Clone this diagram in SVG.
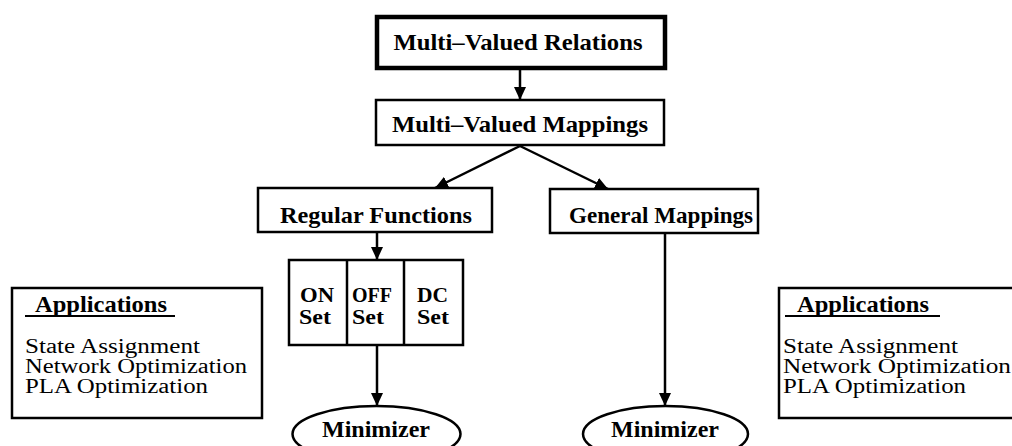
<svg xmlns="http://www.w3.org/2000/svg" width="1012" height="446" viewBox="0 0 1012 446">
<style>
.box{fill:#fff;stroke:#000;stroke-width:2.5}
.thick{fill:#fff;stroke:#000;stroke-width:4.5}
.b{font-family:"Liberation Serif","Times New Roman",serif;font-weight:bold;font-size:24px;fill:#000}
.s{font-family:"Liberation Serif","Times New Roman",serif;font-weight:bold;font-size:20px;fill:#000}
.r{font-family:"Liberation Serif","Times New Roman",serif;font-size:20px;fill:#000}
.c{stroke:#000;stroke-width:2.5;fill:none}
</style>
<defs>
<marker id="ah" markerUnits="userSpaceOnUse" markerWidth="14" markerHeight="12" refX="13" refY="6" orient="auto">
<path d="M0,0 L13,6 L0,12 z" fill="#000"/>
</marker>
</defs>
<g id="connectors">
<line class="c" x1="520" y1="70" x2="520" y2="100" marker-end="url(#ah)"/>
<line class="c" x1="520" y1="146" x2="435" y2="188" marker-end="url(#ah)"/>
<line class="c" x1="520" y1="146" x2="608" y2="189" marker-end="url(#ah)"/>
<line class="c" x1="377" y1="232" x2="377" y2="260" marker-end="url(#ah)"/>
<line class="c" x1="377" y1="345" x2="377" y2="406" marker-end="url(#ah)"/>
<line class="c" x1="665" y1="233" x2="665" y2="406" marker-end="url(#ah)"/>
</g>
<g id="mvrelations">
<rect class="thick" x="377" y="17" width="288" height="51"/>
<text class="b" x="518" y="50" text-anchor="middle" textLength="249" lengthAdjust="spacingAndGlyphs">Multi–Valued Relations</text>
</g>
<g id="mvmappings">
<rect class="box" x="376" y="100" width="288" height="45"/>
<text class="b" x="520" y="132" text-anchor="middle" textLength="256" lengthAdjust="spacingAndGlyphs">Multi–Valued Mappings</text>
</g>
<g id="regular">
<rect class="box" x="258" y="188" width="234" height="44"/>
<text class="b" x="376" y="223" text-anchor="middle" textLength="192" lengthAdjust="spacingAndGlyphs">Regular Functions</text>
</g>
<g id="general">
<rect class="box" x="550" y="189" width="208" height="44"/>
<text class="b" x="569" y="223" textLength="184" lengthAdjust="spacingAndGlyphs">General Mappings</text>
</g>
<g id="sets">
<rect class="box" x="289" y="260" width="174" height="85"/>
<line class="c" x1="347" y1="260" x2="347" y2="345"/>
<line class="c" x1="404" y1="260" x2="404" y2="345"/>
<text class="s" x="300" y="302" textLength="34" lengthAdjust="spacingAndGlyphs">ON</text>
<text class="s" x="299" y="324" textLength="32" lengthAdjust="spacingAndGlyphs">Set</text>
<text class="s" x="352" y="302" textLength="40" lengthAdjust="spacingAndGlyphs">OFF</text>
<text class="s" x="352" y="324" textLength="32" lengthAdjust="spacingAndGlyphs">Set</text>
<text class="s" x="417" y="302" textLength="31" lengthAdjust="spacingAndGlyphs">DC</text>
<text class="s" x="417" y="324" textLength="32" lengthAdjust="spacingAndGlyphs">Set</text>
</g>
<g id="minimizer1">
<ellipse class="box" cx="376.5" cy="434" rx="84" ry="28"/>
<text class="b" x="376" y="437" text-anchor="middle" textLength="108" lengthAdjust="spacingAndGlyphs">Minimizer</text>
</g>
<g id="minimizer2">
<ellipse class="box" cx="665.5" cy="434" rx="82.5" ry="28"/>
<text class="b" x="665" y="437" text-anchor="middle" textLength="108" lengthAdjust="spacingAndGlyphs">Minimizer</text>
</g>
<g id="apps-left">
<rect class="box" x="12" y="288" width="250" height="130"/>
<text class="b" x="35" y="312" textLength="132" lengthAdjust="spacingAndGlyphs">Applications</text>
<line x1="25" y1="316" x2="175" y2="316" stroke="#000" stroke-width="2"/>
<text class="r" x="25" y="353" textLength="175" lengthAdjust="spacingAndGlyphs">State Assignment</text>
<text class="r" x="25" y="373" textLength="222" lengthAdjust="spacingAndGlyphs">Network Optimization</text>
<text class="r" x="25" y="393" textLength="183" lengthAdjust="spacingAndGlyphs">PLA Optimization</text>
</g>
<g id="apps-right">
<rect class="box" x="779" y="288" width="260" height="130"/>
<text class="b" x="797" y="312" textLength="132" lengthAdjust="spacingAndGlyphs">Applications</text>
<line x1="785" y1="316" x2="940" y2="316" stroke="#000" stroke-width="2"/>
<text class="r" x="783" y="353" textLength="175" lengthAdjust="spacingAndGlyphs">State Assignment</text>
<text class="r" x="783" y="373" textLength="228" lengthAdjust="spacingAndGlyphs">Network Optimization</text>
<text class="r" x="783" y="393" textLength="183" lengthAdjust="spacingAndGlyphs">PLA Optimization</text>
</g>
</svg>
